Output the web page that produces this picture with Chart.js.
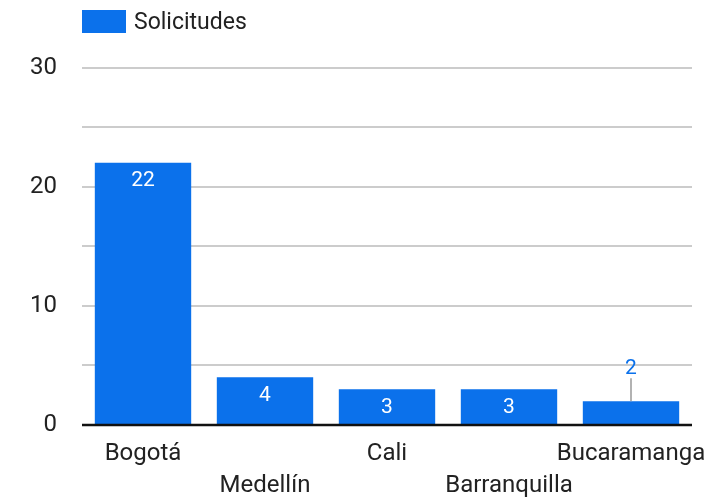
<!DOCTYPE html>
<html>
<head>
<meta charset="utf-8">
<script src="https://cdn.jsdelivr.net/npm/chart.js@4.4.1/dist/chart.umd.min.js"></script>
<style>
  html, body { margin: 0; padding: 0; background: #fff; }
  #wrap { width: 723px; height: 498px; }
</style>
</head>
<body>
<div id="wrap"><canvas id="cityChart"></canvas></div>
<script>
  const cities = ['Bogotá', 'Medellín', 'Cali', 'Barranquilla', 'Bucaramanga'];
  const requests = [22, 4, 3, 3, 2];
  const seriesName = 'Solicitudes';
  const yTicks = [0, 10, 20, 30];

  const barColor = '#0B71EB';
  const font = 'Roboto';

  // legend box + text at top left, aligned with the plot
  const legendPlugin = {
    id: 'topLegend',
    afterDraw(chart) {
      const c = chart.ctx;
      const left = chart.chartArea.left;
      c.save();
      c.fillStyle = barColor;
      c.fillRect(left, 10, 44, 23);
      c.fillStyle = '#222';
      c.font = '23px ' + font;
      c.textBaseline = 'middle';
      c.fillText(seriesName, left + 52, 23);
      c.restore();
    }
  };

  // value labels + baseline drawn over the bars
  const valuePlugin = {
    id: 'values',
    afterDatasetsDraw(chart) {
      const c = chart.ctx;
      const yScale = chart.scales.y;
      const zero = yScale.getPixelForValue(0);
      const meta = chart.getDatasetMeta(0);
      c.save();
      c.font = '21px ' + font;
      c.textAlign = 'center';
      c.textBaseline = 'middle';
      meta.data.forEach((bar, i) => {
        const v = requests[i];
        const h = bar.base - bar.y;
        if (h > 30) {
          c.fillStyle = '#fff';
          c.fillText(String(v), bar.x, bar.y + 18);
        } else {
          c.strokeStyle = '#999';
          c.lineWidth = 1.5;
          c.beginPath();
          c.moveTo(bar.x, bar.y);
          c.lineTo(bar.x, bar.y - 23);
          c.stroke();
          c.fillStyle = barColor;
          c.fillText(String(v), bar.x, bar.y - 32);
        }
      });
      c.strokeStyle = '#111';
      c.lineWidth = 2.5;
      c.beginPath();
      c.moveTo(chart.chartArea.left, zero);
      c.lineTo(chart.chartArea.right, zero);
      c.stroke();
      c.restore();
    }
  };

  const ctx = document.getElementById('cityChart').getContext('2d');
  const cityChart = new Chart(ctx, {
    type: 'bar',
    data: {
      labels: cities,
      datasets: [{
        label: seriesName,
        data: requests,
        backgroundColor: barColor,
        borderWidth: 0,
        categoryPercentage: 1,
        barPercentage: 0.79
      }]
    },
    options: {
      responsive: true,
      maintainAspectRatio: false,
      animation: false,
      layout: { padding: { top: 67.5, right: 31, left: 0, bottom: 0 } },
      plugins: {
        legend: { display: false },
        tooltip: { enabled: false }
      },
      scales: {
        x: {
          grid: { display: false },
          border: { display: false },
          afterFit(scale) { scale.height = 73; },
          ticks: {
            color: '#222',
            padding: 5,
            maxRotation: 0,
            autoSkip: false,
            font: { family: font, size: 24, lineHeight: 1.33 },
            callback(value, index) {
              const name = this.getLabelForValue(value);
              return index % 2 ? ['', name] : name;
            }
          }
        },
        y: {
          min: 0,
          max: yTicks[yTicks.length - 1],
          border: { display: false },
          afterFit(scale) { scale.width = 82; },
          grid: {
            drawTicks: false,
            color: c => c.tick.value === 0 ? 'rgba(0,0,0,0)' : '#cccccc',
            lineWidth: 2
          },
          ticks: {
            stepSize: 5,
            color: '#222',
            padding: 25,
            font: { family: font, size: 24 },
            callback: v => yTicks.includes(v) ? v : ''
          }
        }
      }
    },
    plugins: [legendPlugin, valuePlugin]
  });
</script>
</body>
</html>
